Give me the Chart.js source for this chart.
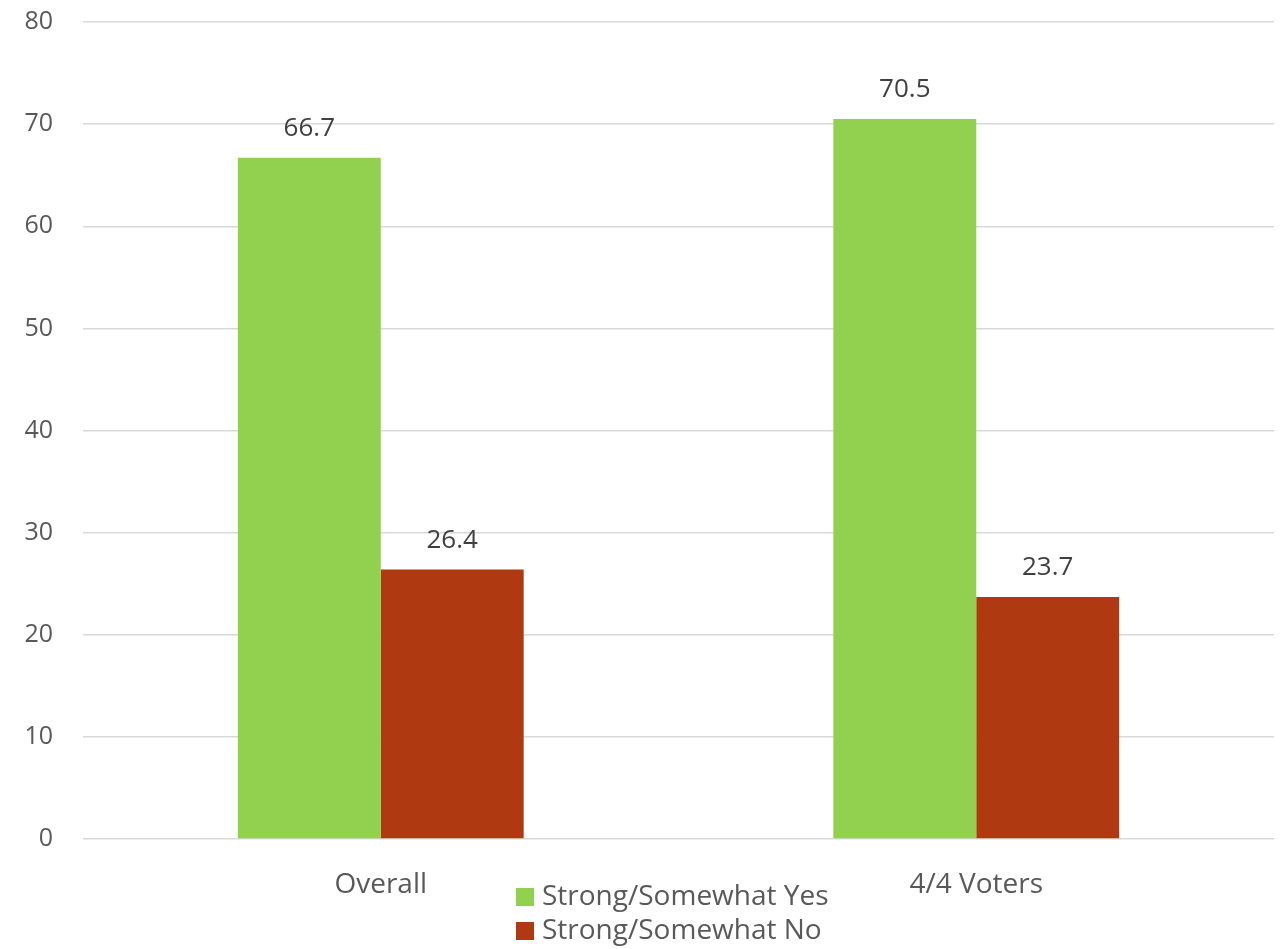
<!DOCTYPE html>
<html>
<head>
<meta charset="utf-8">
<script src="https://cdn.jsdelivr.net/npm/chart.js@4.4.0/dist/chart.umd.min.js"></script>
<style>
  html, body { margin: 0; padding: 0; background: #fff; }
  #wrap { width: 1281px; height: 949px; }
</style>
</head>
<body>
<div id="wrap"><canvas id="chart" width="1281" height="949"></canvas></div>
<script>
const categories = ['Overall', '4/4 Voters'];
const seriesNames = ['Strong/Somewhat Yes', 'Strong/Somewhat No'];
const yesValues = [66.7, 70.5];
const noValues = [26.4, 23.7];
const yTicks = [0, 10, 20, 30, 40, 50, 60, 70, 80];

const FONT = "'Open Sans', 'DejaVu Sans', sans-serif";
const TEXT = '#595959';

// value labels above each bar
const barLabels = {
  id: 'barLabels',
  afterDatasetsDraw(chart) {
    const ctx = chart.ctx;
    ctx.save();
    ctx.font = '26px ' + FONT;
    ctx.fillStyle = '#404040';
    ctx.textAlign = 'center';
    ctx.textBaseline = 'middle';
    chart.data.datasets.forEach((ds, i) => {
      chart.getDatasetMeta(i).data.forEach((bar, j) => {
        ctx.fillText(ds.data[j].toFixed(1), bar.x, bar.y - 29);
      });
    });
    ctx.restore();
  }
};

// stacked legend under the axis, like the original
const stackedLegend = {
  id: 'stackedLegend',
  afterDraw(chart) {
    const ctx = chart.ctx;
    ctx.save();
    ctx.font = '28px ' + FONT;
    ctx.textBaseline = 'middle';
    ctx.textAlign = 'left';
    const boxX = 516;
    chart.data.datasets.forEach((ds, i) => {
      const cy = 897 + i * 34;
      ctx.fillStyle = ds.backgroundColor;
      ctx.fillRect(boxX, cy - 9, 18, 18);
      ctx.fillStyle = TEXT;
      ctx.fillText(ds.label, boxX + 26, cy);
    });
    ctx.restore();
  }
};

new Chart(document.getElementById('chart'), {
  type: 'bar',
  data: {
    labels: categories,
    datasets: [
      { label: seriesNames[0], data: yesValues, backgroundColor: '#92D050' },
      { label: seriesNames[1], data: noValues, backgroundColor: '#AF3A11' }
    ]
  },
  options: {
    responsive: false,
    animation: false,
    devicePixelRatio: 1,
    layout: { padding: { top: 22, right: 7, left: 0, bottom: 0 } },
    datasets: { bar: { categoryPercentage: 0.48, barPercentage: 1.0 } },
    plugins: {
      legend: { display: false },
      tooltip: { enabled: false }
    },
    scales: {
      x: {
        grid: { display: false },
        border: { display: false },
        ticks: { color: TEXT, font: { family: FONT, size: 28 }, padding: 21 },
        afterFit(scale) { scale.height = 110; }
      },
      y: {
        min: 0,
        max: 80,
        afterBuildTicks(scale) { scale.ticks = yTicks.map(v => ({ value: v })); },
        grid: { color: '#D9D9D9', lineWidth: 1.5, drawTicks: true, tickLength: 30, tickColor: 'rgba(0,0,0,0)' },
        border: { display: false },
        ticks: { color: TEXT, font: { family: FONT, size: 25 }, padding: 0 },
        afterFit(scale) { scale.width = 83; }
      }
    }
  },
  plugins: [barLabels, stackedLegend]
});
</script>
</body>
</html>
